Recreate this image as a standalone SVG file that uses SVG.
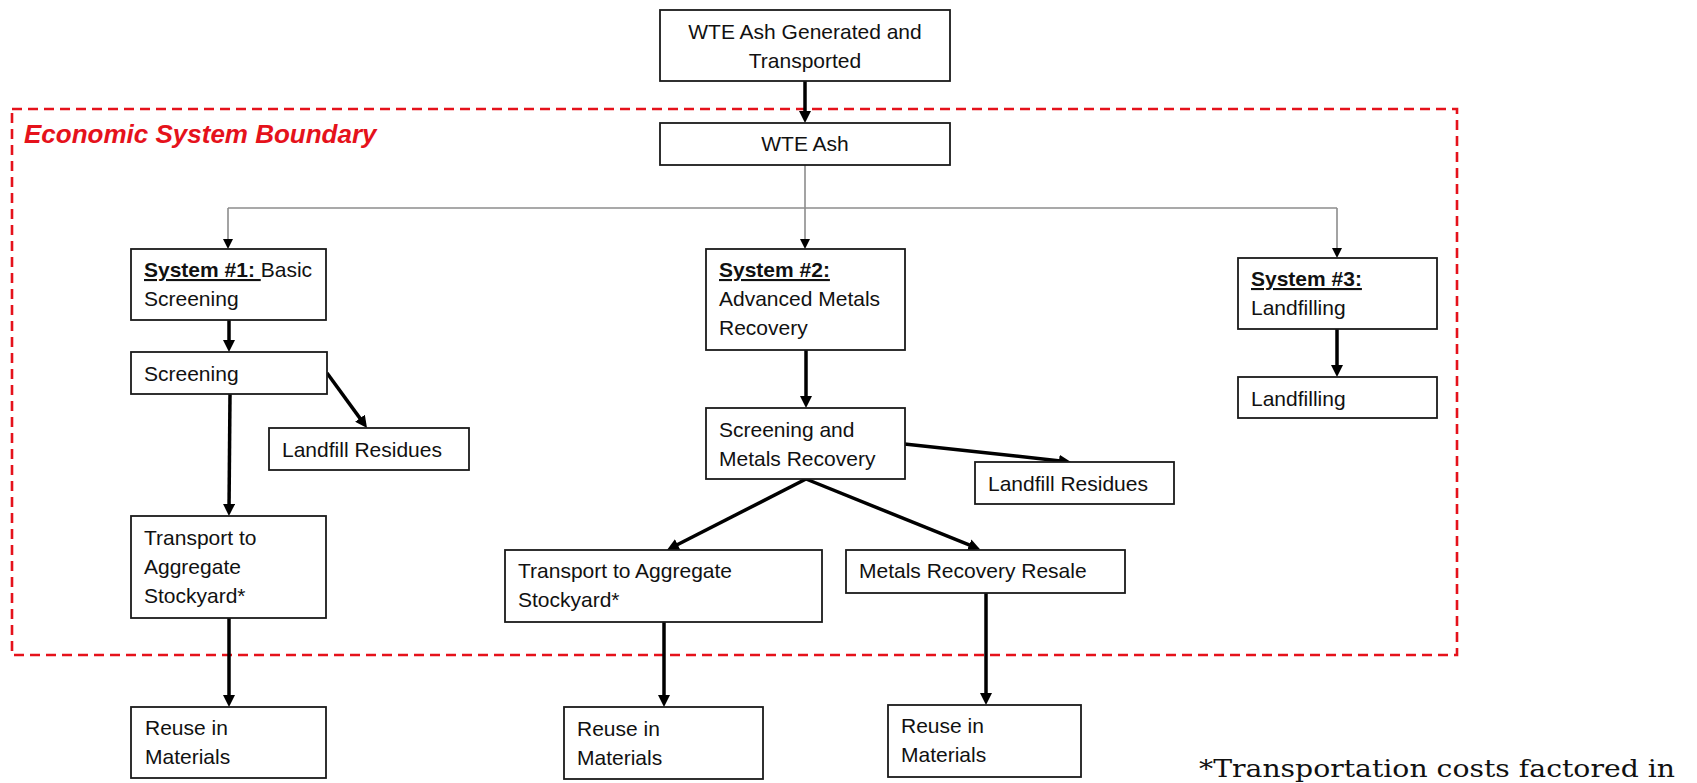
<svg xmlns="http://www.w3.org/2000/svg" width="1697" height="783" viewBox="0 0 1697 783">
  <style>
    .box { fill: #ffffff; stroke: #1a1a1a; stroke-width: 1.8; }
    .lbl { font-family: "Liberation Sans", Arial, sans-serif; font-size: 21px; fill: #111111; }
    .ctr { text-anchor: middle; }
    .u { font-weight: bold; text-decoration: underline; }
    .thick { fill: none; stroke: #000000; stroke-width: 3.5; marker-end: url(#headThick); }
    .thin { fill: none; stroke: #8c8c8c; stroke-width: 1.6; }
    .thinArrow { fill: none; stroke: #8c8c8c; stroke-width: 1.6; marker-end: url(#headThin); }
    .boundary { fill: none; stroke: #e5121b; stroke-width: 2.6; stroke-dasharray: 10 6; }
    .title { font-family: "Liberation Sans", Arial, sans-serif; font-size: 26px; font-weight: bold; font-style: italic; fill: #e5121b; }
    .note { font-family: "DejaVu Serif", "Liberation Serif", serif; font-size: 25px; fill: #111111; }
  </style>
  <defs>
    <marker id="headThick" viewBox="0 0 12 12" markerWidth="12" markerHeight="12" refX="6" refY="6" orient="auto" markerUnits="userSpaceOnUse">
      <path d="M0,0 L12,6 L0,12 z" fill="#000000"/>
    </marker>
    <marker id="headThin" viewBox="0 0 10 10" markerWidth="10" markerHeight="10" refX="5" refY="5" orient="auto" markerUnits="userSpaceOnUse">
      <path d="M0,0 L10,5 L0,10 z" fill="#000000"/>
    </marker>
  </defs>

  <rect width="1697" height="783" fill="#ffffff"/>

  <!-- economic system boundary -->
  <g id="boundary">
    <rect class="boundary" x="12" y="109" width="1445" height="546"/>
    <text class="title" x="24" y="143">Economic System Boundary</text>
  </g>

  <!-- connectors -->
  <g id="connectors">
    <path class="thick" d="M805,81 L805,117"/>
    <path class="thin" d="M805,165 L805,208"/>
    <path class="thin" d="M228,208 L1337,208"/>
    <path class="thinArrow" d="M228,208 L228,244"/>
    <path class="thinArrow" d="M805,208 L805,244"/>
    <path class="thinArrow" d="M1337,208 L1337,253"/>
    <path class="thick" d="M229,320 L229,346"/>
    <path class="thick" d="M327,373 L363.5,423.1"/>
    <path class="thick" d="M230,394 L229,510"/>
    <path class="thick" d="M229,618 L229,701"/>
    <path class="thick" d="M806,350 L806,402"/>
    <path class="thick" d="M904.5,444 L1065,461.4"/>
    <path class="thick" d="M806,479 L672.3,547.3"/>
    <path class="thick" d="M806,479 L974.7,547.2"/>
    <path class="thick" d="M664,622 L664,701"/>
    <path class="thick" d="M986,593 L986,699"/>
    <path class="thick" d="M1337,329 L1337,371"/>
  </g>

  <!-- nodes -->
  <g id="n-top">
    <rect class="box" x="660" y="10" width="290" height="71"/>
    <text class="lbl ctr" x="805" y="39">WTE Ash Generated and</text>
    <text class="lbl ctr" x="805" y="68">Transported</text>
  </g>
  <g id="n-wteash">
    <rect class="box" x="660" y="123" width="290" height="42"/>
    <text class="lbl ctr" x="805" y="151">WTE Ash</text>
  </g>

  <g id="n-sys1">
    <rect class="box" x="131" y="249" width="195" height="71"/>
    <text class="lbl" x="144" y="277"><tspan class="u">System #1:&#160;</tspan>Basic</text>
    <text class="lbl" x="144" y="306">Screening</text>
  </g>
  <g id="n-screening1">
    <rect class="box" x="131" y="352" width="196" height="42"/>
    <text class="lbl" x="144" y="381">Screening</text>
  </g>
  <g id="n-residues1">
    <rect class="box" x="269" y="428" width="200" height="42"/>
    <text class="lbl" x="282" y="457">Landfill Residues</text>
  </g>
  <g id="n-transport1">
    <rect class="box" x="131" y="516" width="195" height="102"/>
    <text class="lbl" x="144" y="545">Transport to</text>
    <text class="lbl" x="144" y="574">Aggregate</text>
    <text class="lbl" x="144" y="603">Stockyard*</text>
  </g>
  <g id="n-reuse1">
    <rect class="box" x="131" y="707" width="195" height="71"/>
    <text class="lbl" x="145" y="735">Reuse in</text>
    <text class="lbl" x="145" y="764">Materials</text>
  </g>

  <g id="n-sys2">
    <rect class="box" x="706" y="249" width="199" height="101"/>
    <text class="lbl" x="719" y="277"><tspan class="u">System #2:</tspan></text>
    <text class="lbl" x="719" y="306">Advanced Metals</text>
    <text class="lbl" x="719" y="335">Recovery</text>
  </g>
  <g id="n-screenmetals">
    <rect class="box" x="706" y="408" width="199" height="71"/>
    <text class="lbl" x="719" y="437">Screening and</text>
    <text class="lbl" x="719" y="466">Metals Recovery</text>
  </g>
  <g id="n-residues2">
    <rect class="box" x="975" y="462" width="199" height="42"/>
    <text class="lbl" x="988" y="491">Landfill Residues</text>
  </g>
  <g id="n-transport2">
    <rect class="box" x="505" y="550" width="317" height="72"/>
    <text class="lbl" x="518" y="578">Transport to Aggregate</text>
    <text class="lbl" x="518" y="607">Stockyard*</text>
  </g>
  <g id="n-resale">
    <rect class="box" x="846" y="550" width="279" height="43"/>
    <text class="lbl" x="859" y="578">Metals Recovery Resale</text>
  </g>
  <g id="n-reuse2">
    <rect class="box" x="564" y="707" width="199" height="72"/>
    <text class="lbl" x="577" y="736">Reuse in</text>
    <text class="lbl" x="577" y="765">Materials</text>
  </g>
  <g id="n-reuse3">
    <rect class="box" x="888" y="705" width="193" height="72"/>
    <text class="lbl" x="901" y="733">Reuse in</text>
    <text class="lbl" x="901" y="762">Materials</text>
  </g>

  <g id="n-sys3">
    <rect class="box" x="1238" y="258" width="199" height="71"/>
    <text class="lbl" x="1251" y="286"><tspan class="u">System #3:</tspan></text>
    <text class="lbl" x="1251" y="315">Landfilling</text>
  </g>
  <g id="n-landfilling">
    <rect class="box" x="1238" y="377" width="199" height="41"/>
    <text class="lbl" x="1251" y="406">Landfilling</text>
  </g>

  <!-- footnote -->
  <text class="note" x="1199" y="777" textLength="476" lengthAdjust="spacingAndGlyphs">*Transportation costs factored in</text>
</svg>
